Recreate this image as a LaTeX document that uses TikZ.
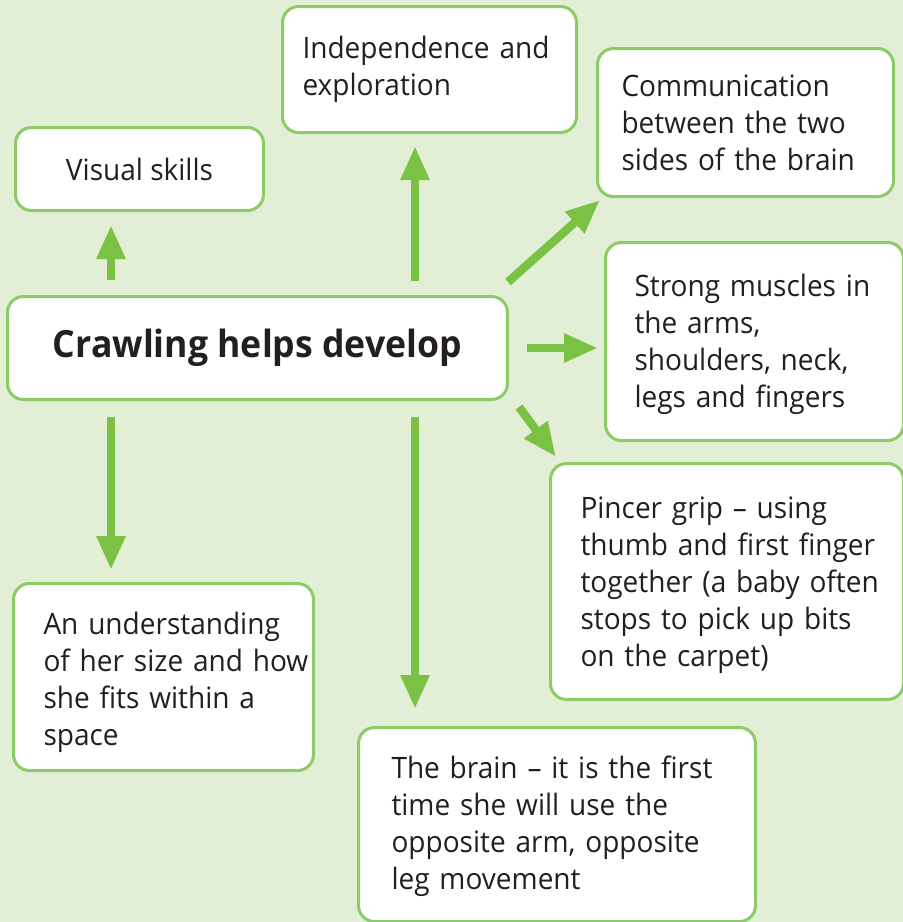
\documentclass[tikz,border=0pt]{standalone}
\usepackage{fontspec}
\setmainfont{Open Sans}[FakeStretch=0.95]
\usetikzlibrary{arrows.meta}
\definecolor{bg}{HTML}{E2EED6}
\definecolor{boxline}{HTML}{8DCB66}
\definecolor{arrowgreen}{HTML}{7BC143}
\definecolor{txt}{HTML}{231F20}
\hfuzz=300pt \hbadness=10000
\newcommand\tl[1]{\mbox{#1}}
\newcommand\topstrut[1]{\rule{0pt}{#1}}
\begin{document}
\begin{tikzpicture}[x=1pt,y=-1pt,
  box/.style={draw=boxline, line width=3pt, fill=white, rounded corners=16pt,
    anchor=north west, inner ysep=0pt, text=txt,
    font=\fontsize{29.5}{37}\selectfont},
  lbox/.style 2 args={box, align=left, inner xsep=#1, text width=#2},
  arr/.style={draw=arrowgreen, line width=8.5pt, -{Triangle[length=34pt,width=27pt]}}]
\fill[bg] (0,0) rectangle (903,922);
\useasboundingbox (0,0) rectangle (903,922);

\node[box, minimum width=248pt, minimum height=83pt, align=center] (vis) at (14,126) {Visual skills};
\node[lbox={20pt}{254pt}, minimum height=126pt] (ind) at (281,5) {\tl{Independence and}\\\tl{exploration}};
\node[lbox={24pt}{248pt}, minimum height=148pt] (com) at (596,47) {\tl{Communication}\\\tl{between the two}\\\tl{sides of the brain}};
\node[box, minimum width=500pt, minimum height=103pt, align=center, font=\fontsize{37.5}{40}\selectfont\bfseries] (crawl) at (6,295) {Crawling helps develop};
\node[lbox={29pt}{240pt}, minimum height=198pt] (str) at (604,241) {\topstrut{28.4pt}\tl{Strong muscles in}\\\tl{the arms,}\\\tl{shoulders, neck,}\\\tl{legs and fingers}};
\node[lbox={30pt}{293pt}, minimum height=236pt] (pin) at (549,462) {\topstrut{28.4pt}\tl{Pincer grip -- using}\\\tl{thumb and first finger}\\\tl{together (a baby often}\\\tl{stops to pick up bits}\\\tl{on the carpet)}};
\node[lbox={30pt}{240pt}, minimum height=187pt] (und) at (12,582) {\topstrut{32.4pt}\tl{An understanding}\\\tl{of her size and how}\\\tl{she fits within a}\\\tl{space}};
\node[lbox={33pt}{331pt}, minimum height=194pt] (brn) at (357,726) {\topstrut{26.4pt}\tl{The brain -- it is the first}\\\tl{time she will use the}\\\tl{opposite arm, opposite}\\\tl{leg movement}};

\coordinate (vl) at (111,0);
\coordinate (vr) at (415,0);
\coordinate (d1s) at (508,282);
\coordinate (d1e) at (600,200);
\coordinate (d2s) at (519,407);
\coordinate (d2e) at (556,457);

\draw[arr, shorten <=15pt, shorten >=13pt] (crawl.north -| vl) -- (vis.south -| vl);
\draw[arr, shorten <=14pt, shorten >=12pt] (crawl.north -| vr) -- (ind.south -| vr);
\draw[arr, shorten <=16pt, shorten >=12pt] (crawl.south -| vl) -- (und.north -| vl);
\draw[arr, shorten <=16pt, shorten >=17pt] (crawl.south -| vr) -- (brn.north -| vr);
\draw[arr, shorten <=18pt, shorten >=6pt] (crawl.east) -- (str.west |- crawl.east);
\draw[arr] (d1s) -- (d1e);
\draw[arr] (d2s) -- (d2e);
\end{tikzpicture}
\end{document}
